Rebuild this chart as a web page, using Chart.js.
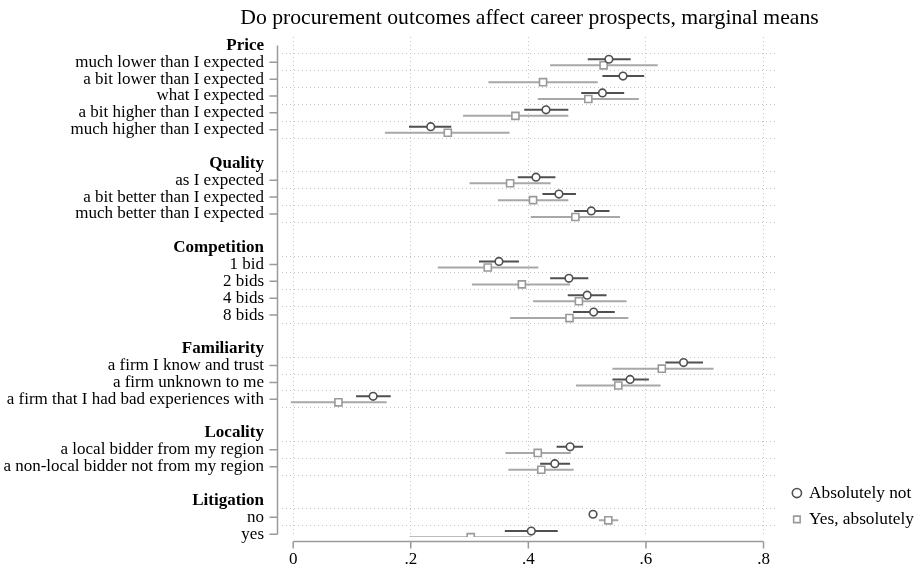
<!DOCTYPE html>
<html>
<head>
<meta charset="utf-8">
<script src="https://cdn.jsdelivr.net/npm/chart.js@4"></script>
<style>
  html, body { margin: 0; padding: 0; background: #fff; }
  #wrap { width: 917px; height: 569px; }
</style>
</head>
<body>
<div id="wrap"><canvas id="coefplot"></canvas></div>
<script>
const title = 'Do procurement outcomes affect career prospects, marginal means';
const groups = ['Price', 'Quality', 'Competition', 'Familiarity', 'Locality', 'Litigation'];
const levels = [
  ['much lower than I expected', 'a bit lower than I expected', 'what I expected', 'a bit higher than I expected', 'much higher than I expected'],
  ['as I expected', 'a bit better than I expected', 'much better than I expected'],
  ['1 bid', '2 bids', '4 bids', '8 bids'],
  ['a firm I know and trust', 'a firm unknown to me', 'a firm that I had bad experiences with'],
  ['a local bidder from my region', 'a non-local bidder not from my region'],
  ['no', 'yes']
];
const xTicks = [0, 0.2, 0.4, 0.6, 0.8];

// "Absolutely not" (circles)
const notMean = [0.537, 0.561, 0.526, 0.430, 0.234, 0.413, 0.452, 0.507, 0.350, 0.469, 0.500, 0.511, 0.664, 0.573, 0.136, 0.471, 0.445, 0.510, 0.405];
const notLo   = [0.501, 0.526, 0.490, 0.393, 0.197, 0.382, 0.424, 0.478, 0.316, 0.437, 0.467, 0.476, 0.633, 0.543, 0.107, 0.448, 0.420, 0.504, 0.360];
const notHi   = [0.574, 0.597, 0.563, 0.468, 0.269, 0.446, 0.481, 0.538, 0.384, 0.502, 0.533, 0.547, 0.697, 0.605, 0.166, 0.493, 0.471, 0.517, 0.450];
// "Yes, absolutely" (squares)
const yesMean = [0.528, 0.425, 0.502, 0.378, 0.263, 0.369, 0.408, 0.480, 0.331, 0.389, 0.486, 0.470, 0.627, 0.553, 0.077, 0.416, 0.422, 0.536, 0.302];
const yesLo   = [0.437, 0.332, 0.416, 0.289, 0.156, 0.300, 0.348, 0.404, 0.246, 0.304, 0.408, 0.369, 0.543, 0.481, -0.004, 0.361, 0.366, 0.520, 0.198];
const yesHi   = [0.620, 0.518, 0.588, 0.468, 0.368, 0.438, 0.468, 0.556, 0.417, 0.471, 0.567, 0.570, 0.715, 0.625, 0.159, 0.472, 0.477, 0.553, 0.405];

const serif = "'Liberation Serif', 'Times New Roman', serif";
const yMin = -0.5, yMax = 29.17;

// rows: group header, its levels, blank row between groups
const rowText = [], rowIsHeader = [], itemRow = [], gridRows = [];
groups.forEach((g, gi) => {
  if (gi > 0) { rowText.push(''); rowIsHeader.push(false); }
  rowText.push(g); rowIsHeader.push(true);
  const first = rowText.length;
  levels[gi].forEach(l => { itemRow.push(rowText.length); rowText.push(l); rowIsHeader.push(false); });
  for (let r = first - 0.5; r <= rowText.length - 0.5; r++) if (r < yMax) gridRows.push(r);
});
// y ticks: one per row (labels) plus the dotted separators between levels
const yTickValues = rowText.map((t, i) => i).concat(gridRows).sort((a, b) => a - b);

const pts = (vals, off) => vals.map((v, i) => ({x: v, y: itemRow[i] + off}));
const ci = (lo, hi, off) => lo.flatMap((l, i) => [
  {x: l, y: itemRow[i] + off}, {x: hi[i], y: itemRow[i] + off}, {x: hi[i], y: null}
]);

// Stata-style axes: lines only span the tick range, set off from the plot region
const axisLines = {
  id: 'axisLines',
  afterDraw(chart) {
    const {ctx, chartArea, scales: {x, y}} = chart;
    ctx.save();
    ctx.strokeStyle = '#9a9a9a';
    ctx.lineWidth = 1.5;
    ctx.beginPath();
    const yb = chartArea.bottom + 4.5;
    ctx.moveTo(x.getPixelForValue(xTicks[0]), yb);
    ctx.lineTo(x.getPixelForValue(xTicks[xTicks.length - 1]), yb);
    xTicks.forEach(v => {
      const px = x.getPixelForValue(v);
      ctx.moveTo(px, yb); ctx.lineTo(px, yb + 7);
    });
    const xl = chartArea.left - 4.5;
    ctx.moveTo(xl, y.getPixelForValue(0));
    ctx.lineTo(xl, y.getPixelForValue(rowText.length - 1));
    itemRow.forEach(r => {
      const py = y.getPixelForValue(r);
      ctx.moveTo(xl, py); ctx.lineTo(xl - 8, py);
    });
    ctx.stroke();
    // title centred over the plot region
    ctx.fillStyle = '#000';
    ctx.font = '21.7px ' + serif;
    ctx.textAlign = 'center';
    ctx.textBaseline = 'middle';
    ctx.fillText(title, (chartArea.left + chartArea.right) / 2, 18);
    ctx.restore();
  }
};

new Chart(document.getElementById('coefplot'), {
  type: 'scatter',
  data: {
    datasets: [{
      label: 'Absolutely not',
      data: pts(notMean, -0.18),
      pointStyle: 'circle',
      pointRadius: 3.8,
      borderColor: '#505050',
      backgroundColor: '#fff',
      borderWidth: 1.6
    }, {
      label: 'Yes, absolutely',
      data: pts(yesMean, 0.18),
      pointStyle: 'rect',
      pointRadius: 5,
      borderColor: '#9a9a9a',
      backgroundColor: '#fff',
      borderWidth: 1.6
    }, {
      type: 'line',
      label: 'ci not',
      data: ci(notLo, notHi, -0.18),
      borderColor: '#505050',
      borderWidth: 2,
      pointRadius: 0,
      spanGaps: false
    }, {
      type: 'line',
      label: 'ci yes',
      data: ci(yesLo, yesHi, 0.18),
      borderColor: '#a8a8a8',
      borderWidth: 2,
      pointRadius: 0,
      spanGaps: false
    }]
  },
  options: {
    responsive: true,
    maintainAspectRatio: false,
    animation: false,
    layout: { padding: { left: 0, right: 0, top: 37, bottom: 1 } },
    plugins: {
      title: { display: false },
      legend: {
        position: 'right',
        align: 'end',
        fullSize: false,
        maxWidth: 132.6,
        labels: {
          usePointStyle: true,
          boxWidth: 7,
          boxHeight: 6.5,
          padding: 9,
          color: '#000',
          font: { family: serif, size: 17.3 },
          filter: item => item.datasetIndex < 2
        }
      },
      tooltip: { enabled: false }
    },
    scales: {
      x: {
        type: 'linear',
        position: 'bottom',
        min: -0.019,
        max: 0.823,
        afterBuildTicks: s => { s.ticks = xTicks.map(v => ({value: v})); },
        afterFit: s => { s.height = 31; },
        ticks: {
          callback: v => v === 0 ? '0' : String(v).replace(/^0/, ''),
          color: '#000',
          font: { family: serif, size: 17, lineHeight: 1 },
          padding: 14,
          maxRotation: 0,
          autoSkip: false
        },
        grid: { color: '#c4c4c4', drawTicks: false, lineWidth: 1 },
        border: { display: false, dash: [1, 3] }
      },
      y: {
        type: 'linear',
        position: 'left',
        reverse: true,
        min: yMin,
        max: yMax,
        afterBuildTicks: s => { s.ticks = yTickValues.map(v => ({value: v})); },
        afterFit: s => { s.width = 282; },
        ticks: {
          callback: v => Number.isInteger(v) ? rowText[v] : '',
          color: '#000',
          font: c => ({ family: serif, size: 17, weight: rowIsHeader[c.tick && c.tick.value] ? 'bold' : 'normal' }),
          padding: 18,
          autoSkip: false
        },
        grid: {
          color: c => (c.tick && gridRows.includes(c.tick.value)) ? '#c4c4c4' : 'rgba(0,0,0,0)',
          drawTicks: false,
          lineWidth: 1
        },
        border: { display: false, dash: [1, 3] }
      },
      spacer: {
        type: 'linear',
        position: 'right',
        afterFit: s => { s.width = 7.35; },
        ticks: { display: false },
        grid: { display: false },
        border: { display: false }
      }
    }
  },
  plugins: [axisLines]
});
</script>
</body>
</html>
